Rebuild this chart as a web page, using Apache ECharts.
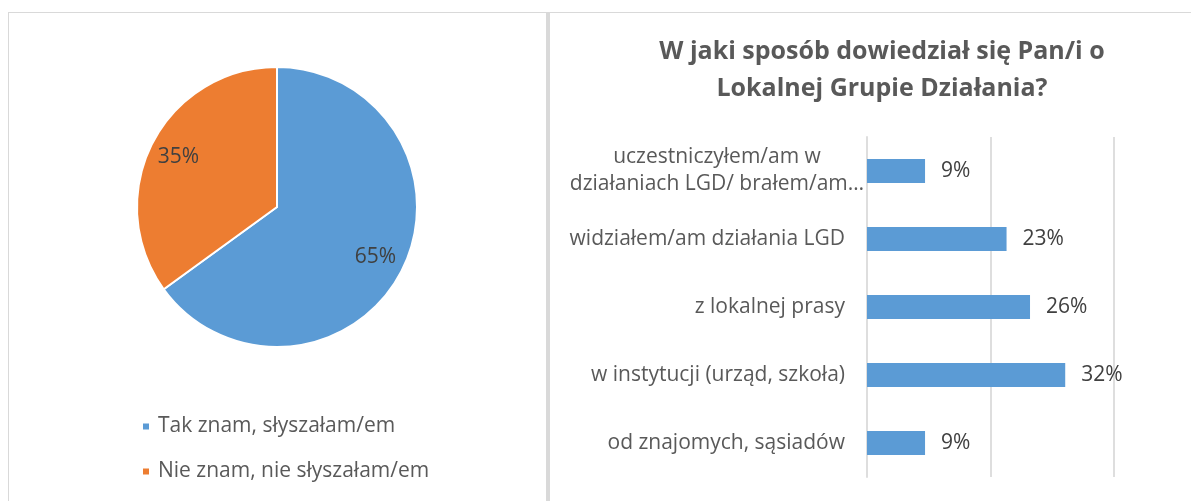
<!DOCTYPE html>
<html>
<head>
<meta charset="utf-8">
<script src="https://cdn.jsdelivr.net/npm/echarts@6/dist/echarts.min.js"></script>
<style>
body{margin:0;background:#fff;}
#wrap{position:relative;width:1191px;height:501px;overflow:hidden;}
.panel{position:absolute;top:12px;height:520px;border:1px solid #d9d9d9;box-sizing:border-box;}
#p1{left:8px;width:540px;border-right-width:2px;}
#p2{left:548px;width:680px;border-left-width:2px;}
#chart{position:absolute;left:0;top:0;width:1191px;height:501px;}
</style>
</head>
<body>
<div id="wrap">
  <div class="panel" id="p1"></div>
  <div class="panel" id="p2"></div>
  <div id="chart"></div>
</div>
<script>
// kołowy - znajomość LGD
var pieNames = ['Tak znam, słyszałam/em', 'Nie znam, nie słyszałam/em'];
var pieValues = [65, 35];
var pieColors = ['#5B9BD5', '#ED7D31'];

// słupkowy - skąd wiedza o LGD (od dołu do góry, jak w Excelu)
var barCategories = [
    'od znajomych, sąsiadów',
    'w instytucji (urząd, szkoła)',
    'z lokalnej prasy',
    'widziałem/am działania LGD',
    'uczestniczyłem/am w\ndziałaniach LGD/ brałem/am…'
];
var barValues = [9.4, 32.1, 26.4, 22.6, 9.4];
var xTicks = [0, 20, 40];

var font = 'Open Sans';
var pieCenter = [277, 207];

var chart = echarts.init(document.getElementById('chart'));

var pieData = [];
for (var i = 0; i < pieNames.length; i++) {
    pieData.push({name: pieNames[i], value: pieValues[i], itemStyle: {color: pieColors[i]}});
}

var option = {
    backgroundColor: 'transparent',
    animation: false,
    textStyle: {fontFamily: font},
    title: {
        text: 'W jaki sposób dowiedział się Pan/i o\nLokalnej Grupie Działania?',
        left: 877,
        top: 28,
        textAlign: 'center',
        textStyle: {fontFamily: font, fontSize: 25, fontWeight: 'bold', color: '#595959', lineHeight: 37}
    },
    legend: {
        data: pieNames,
        orient: 'vertical',
        left: 141,
        top: 416,
        padding: 0,
        icon: 'rect',
        itemWidth: 8,
        itemHeight: 8,
        itemGap: 24,
        textStyle: {fontFamily: font, fontSize: 21, color: '#595959', lineHeight: 21, padding: [0, 0, 0, 3]}
    },
    grid: {left: 867, right: 77, top: 137, bottom: 24},
    xAxis: {
        type: 'value',
        min: xTicks[0],
        max: xTicks[xTicks.length - 1],
        interval: xTicks[1] - xTicks[0],
        axisLine: {show: false},
        axisTick: {show: false},
        axisLabel: {show: false},
        splitLine: {lineStyle: {color: '#dedede', width: 2}}
    },
    yAxis: {
        type: 'category',
        data: barCategories,
        axisTick: {show: false},
        axisLine: {lineStyle: {color: '#dedede', width: 2}},
        axisLabel: {
            margin: 22,
            fontFamily: font,
            fontSize: 21,
            color: '#595959',
            lineHeight: 27,
            formatter: function (v) {
                if (v.indexOf('\n') >= 0) {
                    var parts = v.split('\n');
                    return '{c|' + parts[0] + '}\n{c|' + parts[1] + '}';
                }
                return v;
            },
            rich: {
                c: {width: 256, align: 'center', fontFamily: font, fontSize: 21, color: '#595959', lineHeight: 27}
            }
        }
    },
    series: [
        {
            type: 'pie',
            center: pieCenter,
            radius: [0, 140],
            startAngle: 90,
            clockwise: true,
            data: pieData,
            itemStyle: {borderColor: '#fff', borderWidth: 2},
            label: {
                show: true,
                position: 'inside',
                formatter: '{c}%',
                fontFamily: font,
                fontSize: 21,
                color: '#404040'
            },
            labelLine: {show: false},
            // etykiety dalej od środka, jak w Excelu
            labelLayout: function (p) {
                var r = p.labelRect;
                var lx = r.x + r.width / 2, ly = r.y + r.height / 2;
                return {dx: (lx - pieCenter[0]) * 0.514, dy: (ly - pieCenter[1]) * 0.514};
            },
            emphasis: {disabled: true}
        },
        {
            type: 'bar',
            data: barValues,
            barWidth: 24,
            itemStyle: {color: '#5B9BD5'},
            label: {
                show: true,
                position: 'right',
                distance: 16,
                fontFamily: font,
                fontSize: 21,
                color: '#404040',
                formatter: function (p) { return Math.round(p.value) + '%'; }
            },
            emphasis: {disabled: true}
        }
    ]
};
chart.setOption(option);
</script>
</body>
</html>
